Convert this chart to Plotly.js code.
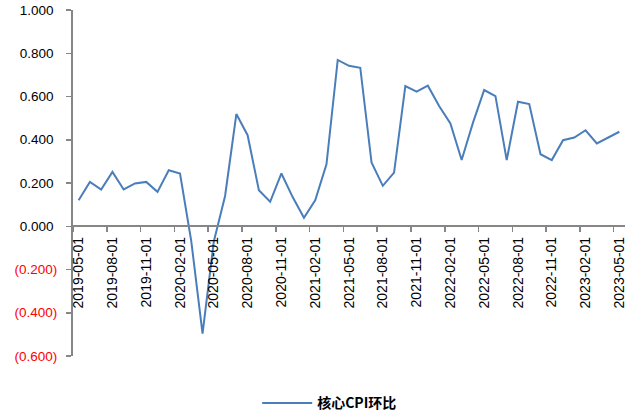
<!DOCTYPE html>
<html>
<head>
<meta charset="utf-8">
<script src="https://cdn.plot.ly/plotly-3.0.1.min.js"></script>
<style>html,body{margin:0;padding:0;background:#fff;}#chart{width:643px;height:417px;}</style>
</head>
<body>
<div id="chart"></div>
<script>
var months = [
  "2019-05-01","2019-06-01","2019-07-01","2019-08-01","2019-09-01","2019-10-01","2019-11-01","2019-12-01",
  "2020-01-01","2020-02-01","2020-03-01","2020-04-01","2020-05-01","2020-06-01","2020-07-01","2020-08-01",
  "2020-09-01","2020-10-01","2020-11-01","2020-12-01","2021-01-01","2021-02-01","2021-03-01","2021-04-01",
  "2021-05-01","2021-06-01","2021-07-01","2021-08-01","2021-09-01","2021-10-01","2021-11-01","2021-12-01",
  "2022-01-01","2022-02-01","2022-03-01","2022-04-01","2022-05-01","2022-06-01","2022-07-01","2022-08-01",
  "2022-09-01","2022-10-01","2022-11-01","2022-12-01","2023-01-01","2023-02-01","2023-03-01","2023-04-01",
  "2023-05-01"
];
var coreCpiMoM = [
  0.120, 0.205, 0.170, 0.251, 0.170, 0.198, 0.205, 0.159,
  0.259, 0.244, -0.070, -0.497, -0.070, 0.140, 0.519, 0.421,
  0.167, 0.113, 0.244, 0.135, 0.039, 0.120, 0.286, 0.769,
  0.742, 0.733, 0.295, 0.187, 0.248, 0.648, 0.622, 0.650,
  0.556, 0.475, 0.306, 0.478, 0.630, 0.602, 0.306, 0.576,
  0.565, 0.333, 0.306, 0.398, 0.410, 0.444, 0.383, 0.410,
  0.437
];
var seriesName = "核心CPI环比";
var yTickVals = [-0.6, -0.4, -0.2, 0, 0.2, 0.4, 0.6, 0.8, 1.0];
var yTickText = [
  '<span style="color:#ff0000">(0.600)</span>',
  '<span style="color:#ff0000">(0.400)</span>',
  '<span style="color:#ff0000">(0.200)</span>',
  '0.000\u00a0', '0.200\u00a0', '0.400\u00a0', '0.600\u00a0', '0.800\u00a0', '1.000\u00a0'
];

var trace = {
  x: months,
  y: coreCpiMoM,
  type: 'scatter',
  mode: 'lines',
  name: seriesName,
  line: {color: '#4A7EBB', width: 2}
};

var axisColor = '#868686';
var layout = {
  width: 643,
  height: 417,
  margin: {l: 73, r: 18, t: 10, b: 61.4, autoexpand: false},
  paper_bgcolor: '#ffffff',
  plot_bgcolor: '#ffffff',
  font: {family: 'Liberation Sans, Arial, sans-serif', size: 13, color: '#000'},
  showlegend: true,
  legend: {
    orientation: 'h',
    x: 0.465, xanchor: 'center',
    y: -0.137, yanchor: 'middle',
    font: {family: 'Noto Sans CJK SC, sans-serif', size: 14, color: '#000', weight: 'bold'},
    itemwidth: 50,
    bgcolor: 'rgba(0,0,0,0)'
  },
  xaxis: {
    type: 'category',
    range: [-0.5, 48.5],
    anchor: 'free',
    position: 0.375,
    dtick: 3,
    tickson: 'boundaries',
    ticks: 'outside',
    ticklen: 5,
    tickwidth: 1.5,
    tickcolor: axisColor,
    showline: true,
    linecolor: axisColor,
    linewidth: 2,
    showgrid: false,
    zeroline: false,
    tickangle: -90,
    ticklabelstandoff: 4,
    automargin: false,
    tickfont: {family: 'Liberation Sans, Arial, sans-serif', size: 14, color: '#000'}
  },
  yaxis: {
    range: [-0.6, 1.0],
    domain: [0, 1],
    tickmode: 'array',
    tickvals: yTickVals,
    ticktext: yTickText,
    ticks: 'outside',
    ticklen: 5,
    tickwidth: 1.5,
    tickcolor: axisColor,
    showline: true,
    linecolor: axisColor,
    linewidth: 2,
    showgrid: false,
    zeroline: false,
    ticklabelstandoff: 6,
    automargin: false,
    tickfont: {family: 'Liberation Sans, Arial, sans-serif', size: 13.5, color: '#000'}
  }
};

Plotly.newPlot('chart', [trace], layout, {displayModeBar: false, staticPlot: true});
</script>
</body>
</html>
